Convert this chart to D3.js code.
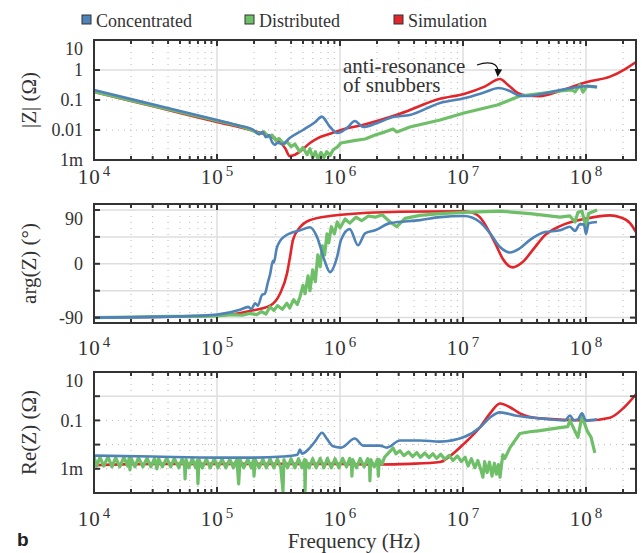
<!DOCTYPE html>
<html>
<head>
<meta charset="utf-8">
<script src="https://cdn.jsdelivr.net/npm/d3@7"></script>
<style>
  body { margin: 0; background: #fff; }
  svg text { font-family: "Liberation Serif", "Times New Roman", serif; fill: #333; }
</style>
</head>
<body>
<svg id="chart" width="642" height="553"></svg>
<script>
// Impedance of the snubber network: |Z|, arg(Z), Re(Z) vs frequency

const seriesNames = ["Concentrated", "Distributed", "Simulation"];
const seriesColors = ["#4f83b8", "#6fbf69", "#e0262a"];

const xTickExps = [4, 5, 6, 7, 8];

const magTicks = [10, 1, 0.1, 0.01, 0.001];
const magTickLabels = ["10", "1", "0.1", "0.01", "1m"];
const argTicks = [90, 45, 0, -45, -90];
const argTickLabels = ["90", "", "0", "", "-90"];
const reTicks = [10, 1, 0.1, 0.01, 0.001];
const reTickLabels = ["10", "", "0.1", "", "1m"];

// ---- |Z| (Ohm) ----
const magSim = [[1e4,0.185],[2e4,0.093],[5e4,0.037],[1e5,0.0185],[2e5,0.0092],[2.7e5,0.0062],[3.25e5,0.004],
  [3.6e5,0.0024],[3.9e5,0.00135],[4.3e5,0.0015],[4.73e5,0.0019],[5.7e5,0.0037],[6.5e5,0.0052],[8.3e5,0.0075],
  [1.02e6,0.01],[1.5e6,0.0145],[3.07e6,0.035],[6.5e6,0.11],[1.02e7,0.16],[1.5e7,0.28],[2e7,0.5],[2.3e7,0.33],
  [2.8e7,0.17],[3.3e7,0.14],[4.2e7,0.135],[6.15e7,0.2],[1.02e8,0.4],[1.57e8,0.6],[2.1e8,1.1],[2.55e8,1.85]];
const magConc = [[1e4,0.215],[2e4,0.107],[5e4,0.043],[1e5,0.0215],[1.5e5,0.0142],[2e5,0.0098],[2.2e5,0.0072],
  [2.35e5,0.0085],[2.5e5,0.0058],[2.65e5,0.0066],[2.8e5,0.004],[2.96e5,0.0032],[3.1e5,0.0038],[3.4e5,0.0034],
  [3.9e5,0.0054],[5e5,0.01],[6.3e5,0.0185],[7.1e5,0.028],[8.3e5,0.0126],[9.5e5,0.0079],[1.15e6,0.012],
  [1.32e6,0.02],[1.54e6,0.0126],[2e6,0.017],[2.7e6,0.027],[3.7e6,0.0316],[6.5e6,0.08],[1.02e7,0.115],
  [1.5e7,0.18],[1.95e7,0.25],[2.4e7,0.2],[2.9e7,0.14],[3.3e7,0.136],[6.15e7,0.215],[8.15e7,0.26],
  [1.02e8,0.29],[1.23e8,0.27]];
const magDist = [[1e4,0.19],[2e4,0.097],[5e4,0.04],[1e5,0.0205],[1.5e5,0.0138],[1.85e5,0.0105],[2.2e5,0.0075],
  [2.4e5,0.0088],[2.6e5,0.006],[2.8e5,0.0068],[3e5,0.0045],[3.2e5,0.0052],[3.5e5,0.0034],[3.7e5,0.0041],
  [4e5,0.0028],[4.3e5,0.0034],[4.7e5,0.0019],[5e5,0.0026],[5.4e5,0.0015],[5.7e5,0.0024],[6e5,0.0012],
  [6.3e5,0.0019],[6.6e5,0.0011],[7e5,0.0018],[7.4e5,0.0012],[7.8e5,0.0019],[8.3e5,0.0014],[8.8e5,0.0022],
  [9.5e5,0.0027],[1.02e6,0.0037],[1.3e6,0.0044],[1.6e6,0.005],[1.93e6,0.0068],[2.3e6,0.0085],[2.7e6,0.0108],
  [2.9e6,0.0086],[3.7e6,0.0126],[6.5e6,0.0215],[1.02e7,0.037],[1.9e7,0.068],[2.9e7,0.136],[6.15e7,0.2],
  [7.7e7,0.215],[8.15e7,0.185],[8.9e7,0.32],[9.45e7,0.185],[1.02e8,0.29],[1.23e8,0.27]];

// ---- arg(Z) (deg) ----
const argSim = [[1e4,-90],[1e5,-87],[1.85e5,-79],[2.7e5,-70],[3.25e5,-50],[3.71e5,-16],[3.92e5,11],[4.15e5,40],
  [4.73e5,61],[5.7e5,73],[8.3e5,80],[1.02e6,82],[3.07e6,87],[1.02e7,88],[1.25e7,84],[1.37e7,78],[1.66e7,51],
  [1.89e7,28],[2.11e7,8],[2.55e7,-6],[3.02e7,2],[3.85e7,28],[4.64e7,48],[6.15e7,63],[1.02e8,76],[1.57e8,81],
  [1.89e8,78],[2.28e8,68],[2.55e8,53]];
const argConc = [[1e4,-90],[5e4,-88],[1e5,-85],[1.54e5,-77],[1.8e5,-72],[1.9e5,-76],[2.04e5,-66],[2.15e5,-70],
  [2.32e5,-52],[2.45e5,-50],[2.6e5,-30],[2.7e5,-18],[2.85e5,5],[2.9e5,2],[3.05e5,25],[3.25e5,38],[3.5e5,45],
  [3.92e5,51],[4.73e5,56],[5.7e5,61],[6.5e5,45],[7.5e5,5],[8.3e5,-14],[9.46e5,11],[1.02e6,40],[1.2e6,58],
  [1.4e6,31],[1.6e6,51],[1.93e6,56],[2.55e6,68],[4.47e6,73],[6.5e6,78],[1.02e7,80],[1.37e7,70],[1.66e7,51],
  [2e7,28],[2.41e7,19],[2.9e7,26],[3.51e7,40],[4.64e7,53],[6.15e7,56],[7.4e7,62],[8.15e7,55],[8.9e7,66],
  [9.6e7,66],[1e8,50],[1.05e8,68],[1.23e8,70]];
const argDist = [[1e4,-90],[2e4,-89],[4e4,-88],[7e4,-88],[1e5,-87],[1.3e5,-85],[1.6e5,-86],[1.85e5,-83],
  [2.1e5,-85],[2.3e5,-80],[2.5e5,-84],[2.7e5,-72],[2.9e5,-78],[3.1e5,-70],[3.4e5,-76],[3.7e5,-66],[3.9e5,-74],
  [4.2e5,-60],[4.5e5,-68],[4.73e5,-55],[5e5,-36],[5.2e5,-50],[5.5e5,-20],[5.7e5,-45],[6e5,-10],[6.3e5,-30],
  [6.6e5,15],[6.9e5,-5],[7.2e5,30],[7.5e5,15],[7.84e5,50],[8.1e5,35],[8.5e5,62],[9e5,50],[9.5e5,70],
  [1e6,60],[1.1e6,75],[1.2e6,68],[1.35e6,78],[1.5e6,72],[1.7e6,80],[1.93e6,78],[2.2e6,82],[2.55e6,70],
  [2.9e6,62],[3.38e6,76],[4.47e6,81],[6.5e6,84],[1.02e7,86],[2e7,88],[3.51e7,84],[6.15e7,78],[7.4e7,80],
  [8.15e7,70],[8.6e7,86],[9.27e7,88],[1e8,62],[1.05e8,84],[1.23e8,90]];

// ---- Re(Z) (Ohm) ----
const reSim = [[1e4,0.0014],[3e4,0.0016],[1e5,0.0016],[1e6,0.0016],[2e6,0.0015],[3.7e6,0.0016],[6.5e6,0.0019],
  [7.8e6,0.0033],[1.02e7,0.011],[1.37e7,0.051],[1.66e7,0.196],[2e7,0.5],[2.41e7,0.35],[2.9e7,0.196],
  [4.23e7,0.121],[1.02e8,0.1],[1.57e8,0.13],[2.05e8,0.35],[2.55e8,1.2]];
const reConc = [[1e4,0.0035],[3e4,0.0032],[1e5,0.0029],[2e5,0.0029],[3.44e5,0.0032],[4.5e5,0.0038],
  [4.73e5,0.0062],[4.9e5,0.0042],[5.7e5,0.0075],[6.3e5,0.014],[7.14e5,0.031],[7.84e5,0.017],[8.8e5,0.0085],
  [1.02e6,0.0075],[1.32e6,0.0178],[1.54e6,0.0091],[2.11e6,0.0091],[2.41e6,0.0075],[3.07e6,0.0147],
  [4.47e6,0.0147],[6.5e6,0.0133],[1.02e7,0.0205],[1.37e7,0.051],[1.66e7,0.133],[2e7,0.215],[2.65e7,0.16],
  [4.23e7,0.121],[6.75e7,0.1],[7.4e7,0.16],[7.98e7,0.1],[8.6e7,0.11],[9.27e7,0.196],[1e8,0.1],[1.23e8,0.11]];
const reDist = [[1e4,0.0032],[1.05e4,0.0013],[1.12e4,0.003],[1.2e4,0.0013],[1.3e4,0.0031],[1.4e4,0.0012],
  [1.5e4,0.0029],[1.62e4,0.0012],[1.75e4,0.003],[1.88e4,0.0013],[1.93e4,0.0027],[1.96e4,0.0009],[2e4,0.0028],
  [2.15e4,0.0012],[2.3e4,0.0029],[2.5e4,0.0012],[2.7e4,0.0028],[2.9e4,0.0012],[3.1e4,0.0027],[3.25e4,0.001],
  [3.35e4,0.0027],[3.6e4,0.0012],[3.9e4,0.0028],[4.2e4,0.0012],[4.5e4,0.0027],[4.9e4,0.0011],[5.2e4,0.0026],
  [5.45e4,0.0013],[5.5e4,0.00038],[5.6e4,0.0024],[5.9e4,0.0011],[6.3e4,0.0027],[6.7e4,0.0011],[6.9e4,0.0022],
  [7e4,0.00024],[7.15e4,0.0024],[7.6e4,0.0011],[8.2e4,0.0026],[8.8e4,0.0011],[9.5e4,0.0026],[1.02e5,0.0011],
  [1.1e5,0.0026],[1.18e5,0.0011],[1.27e5,0.0025],[1.36e5,0.0011],[1.45e5,0.0025],[1.5e5,0.00024],
  [1.54e5,0.0024],[1.65e5,0.0011],[1.78e5,0.0025],[1.9e5,0.0011],[1.97e5,0.0022],[2e5,0.0005],[2.05e5,0.0024],
  [2.2e5,0.0011],[2.36e5,0.0025],[2.52e5,0.0011],[2.7e5,0.0026],[2.9e5,0.0011],[3.1e5,0.0026],[3.3e5,0.0011],
  [3.44e5,0.00012],[3.5e5,0.0024],[3.75e5,0.0011],[4e5,0.0026],[4.3e5,0.0011],[4.6e5,0.0026],[4.9e5,0.0011],
  [5.15e5,0.0024],[5.2e5,0.00012],[5.27e5,0.0023],[5.6e5,0.0011],[6e5,0.0026],[6.4e5,0.0011],[6.9e5,0.0027],
  [7.4e5,0.0011],[7.9e5,0.0027],[8.5e5,0.0011],[9.1e5,0.0026],[9.8e5,0.0011],[1.05e6,0.0027],[1.13e6,0.0012],
  [1.2e6,0.0027],[1.24e6,0.0014],[1.25e6,0.0005],[1.27e6,0.0024],[1.36e6,0.0011],[1.46e6,0.0027],
  [1.57e6,0.0012],[1.68e6,0.0026],[1.74e6,0.0014],[1.75e6,0.00032],[1.78e6,0.0024],[1.9e6,0.0012],
  [2.02e6,0.0025],[2.05e6,0.0005],[2.08e6,0.0024],[2.2e6,0.0016],[2.3e6,0.003],[2.45e6,0.0042],[2.7e6,0.0072],
  [2.85e6,0.0042],[3.07e6,0.0056],[3.3e6,0.0035],[3.6e6,0.005],[3.9e6,0.0032],[4.2e6,0.0047],[4.5e6,0.003],
  [4.9e6,0.0045],[5.3e6,0.0029],[5.7e6,0.0042],[6.1e6,0.0027],[6.6e6,0.004],[7.1e6,0.0025],[7.7e6,0.0036],
  [8.3e6,0.0022],[9e6,0.0034],[9.7e6,0.002],[1.04e7,0.003],[1.1e7,0.0013],[1.17e7,0.0026],[1.25e7,0.0011],
  [1.32e7,0.0022],[1.4e7,0.0009],[1.45e7,0.00045],[1.5e7,0.002],[1.57e7,0.0007],[1.64e7,0.0019],
  [1.72e7,0.0005],[1.8e7,0.0017],[1.87e7,0.0006],[1.94e7,0.0015],[2e7,0.00045],[2.05e7,0.0013],
  [2.11e7,0.0038],[2.19e7,0.0027],[2.41e7,0.0075],[2.65e7,0.015],[2.9e7,0.0287],[3.5e7,0.034],[4.23e7,0.038],
  [6.15e7,0.05],[7.1e7,0.055],[7.4e7,0.1],[8.6e7,0.02],[9.27e7,0.147],[1.02e8,0.038],[1.1e8,0.02],[1.18e8,0.0046]];

const svg = d3.select("#chart");
const left = 94, right = 636;

const x = d3.scaleLog().domain([1e4, 2.55e8]).range([left, right]);

const panels = [
  { top: 40, bottom: 160, y: d3.scaleLog().domain([1e-3, 10]), ticks: magTicks, labels: magTickLabels,
    solid: [1], title: "|Z| (\u03A9)", xLabelY: 184, data: [magConc, magDist, magSim] },
  { top: 204, bottom: 323, y: d3.scaleLinear().domain([-99, 100]), ticks: argTicks, labels: argTickLabels,
    solid: [90, 45, 0, -45, -90], title: "arg(Z) (\u00B0)", xLabelY: 355, data: [argConc, argDist, argSim] },
  { top: 372, bottom: 493, y: d3.scaleLog().domain([1e-4, 10]), ticks: reTicks, labels: reTickLabels,
    solid: [1], title: "Re(Z) (\u03A9)", xLabelY: 526, data: [reConc, reDist, reSim] }
];

const xMinor = x.ticks();  // 1..9 x 10^k
const isDecade = v => Math.abs(Math.log10(v) - Math.round(Math.log10(v))) < 1e-9;

panels.forEach((p, i) => {
  p.y.range([p.bottom, p.top]);
  const g = svg.append("g");

  // vertical grid
  xMinor.filter(v => x(v) > left + 1 && x(v) < right - 1).forEach(v => {
    const decade = isDecade(v);
    g.append("line")
      .attr("x1", x(v)).attr("x2", x(v))
      .attr("y1", p.top).attr("y2", p.bottom)
      .attr("stroke", decade ? "#dedede" : "#b8b8b8")
      .attr("stroke-width", decade ? 1.5 : 1)
      .attr("stroke-dasharray", decade ? null : "1,5");
  });

  // horizontal grid
  p.ticks.forEach(t => {
    const yy = p.y(t);
    if (yy <= p.top + 1 || yy >= p.bottom - 1) return;
    const solid = p.solid.includes(t);
    g.append("line")
      .attr("x1", left).attr("x2", right)
      .attr("y1", yy).attr("y2", yy)
      .attr("stroke", solid ? "#dedede" : "#b8b8b8")
      .attr("stroke-width", solid ? 1.5 : 1)
      .attr("stroke-dasharray", solid ? null : "1,5");
  });

  // data
  const clipId = "clip" + i;
  svg.append("clipPath").attr("id", clipId)
    .append("rect").attr("x", left).attr("y", p.top)
    .attr("width", right - left).attr("height", p.bottom - p.top);

  const order = [2, 1, 0];  // simulation, distributed, concentrated on top
  order.forEach(k => {
    const line = d3.line()
      .x(d => x(d[0]))
      .y(d => p.y(d[1]))
      .curve(k === 1 ? d3.curveLinear : d3.curveMonotoneX);
    g.append("path")
      .datum(p.data[k])
      .attr("clip-path", `url(#${clipId})`)
      .attr("d", line)
      .attr("fill", "none")
      .attr("stroke", seriesColors[k])
      .attr("stroke-width", k === 1 ? 3.2 : 2.6)
      .attr("stroke-linejoin", "round");
  });

  // frame
  g.append("rect")
    .attr("x", left).attr("y", p.top)
    .attr("width", right - left).attr("height", p.bottom - p.top)
    .attr("fill", "none").attr("stroke", "#333").attr("stroke-width", 2);

  // x ticks (inward, top and bottom)
  xMinor.forEach(v => {
    const len = isDecade(v) ? 6 : 4;
    g.append("line").attr("x1", x(v)).attr("x2", x(v))
      .attr("y1", p.top).attr("y2", p.top + len)
      .attr("stroke", "#333").attr("stroke-width", 2);
    g.append("line").attr("x1", x(v)).attr("x2", x(v))
      .attr("y1", p.bottom).attr("y2", p.bottom - len)
      .attr("stroke", "#333").attr("stroke-width", 2);
  });

  // y ticks (inward, left and right)
  p.ticks.forEach((t, j) => {
    const yy = p.y(t);
    g.append("line").attr("x1", left).attr("x2", left + 6)
      .attr("y1", yy).attr("y2", yy).attr("stroke", "#333").attr("stroke-width", 2);
    g.append("line").attr("x1", right).attr("x2", right - 6)
      .attr("y1", yy).attr("y2", yy).attr("stroke", "#333").attr("stroke-width", 2);
    if (p.labels[j]) {
      const shift = yy - p.top < 8 ? 9 : 0;
      g.append("text")
        .attr("x", 83).attr("y", yy + shift)
        .attr("dy", "0.35em")
        .attr("text-anchor", "end")
        .attr("font-size", 18)
        .text(p.labels[j]);
    }
  });

  // x tick labels 10^k
  xTickExps.forEach(e => {
    const t = g.append("text")
      .attr("x", x(Math.pow(10, e)))
      .attr("y", p.xLabelY)
      .attr("text-anchor", "middle")
      .attr("font-size", 21);
    t.append("tspan").attr("letter-spacing", 1).text("10");
    t.append("tspan").attr("dx", 2).attr("dy", -8).attr("font-size", 15).text(e);
  });

  // y title
  g.append("text")
    .attr("transform", `translate(36,${(p.top + p.bottom) / 2}) rotate(-90)`)
    .attr("text-anchor", "middle")
    .attr("font-size", 21)
    .text(p.title);
});

// x axis title
svg.append("text")
  .attr("x", 354).attr("y", 548)
  .attr("text-anchor", "middle")
  .attr("font-size", 21)
  .text("Frequency (Hz)");

// panel letter
svg.append("text")
  .attr("x", 17).attr("y", 546)
  .style("font-family", "'Liberation Sans', Arial, sans-serif")
  .style("font-weight", "bold")
  .style("fill", "#222")
  .attr("font-size", 19)
  .text("b");

// legend
const legendX = [82, 245, 394];
seriesNames.forEach((name, i) => {
  svg.append("rect")
    .attr("x", legendX[i]).attr("y", 15)
    .attr("width", 9).attr("height", 9)
    .attr("fill", seriesColors[i])
    .attr("stroke", "#333").attr("stroke-width", 1);
  svg.append("text")
    .attr("x", legendX[i] + 14).attr("y", 27)
    .attr("font-size", 18)
    .text(name);
});

// annotation
svg.append("defs").append("marker")
  .attr("id", "arrow")
  .attr("viewBox", "0 0 10 10")
  .attr("refX", 5).attr("refY", 5)
  .attr("markerWidth", 6).attr("markerHeight", 6)
  .attr("orient", "auto")
  .append("path").attr("d", "M0,0 L10,5 L0,10 z").attr("fill", "#111");

svg.append("path")
  .attr("d", "M477,65 C488,61 499,62 498,73")
  .attr("fill", "none")
  .attr("stroke", "#111")
  .attr("stroke-width", 1.3)
  .attr("marker-end", "url(#arrow)");

svg.append("text").attr("x", 343).attr("y", 73).attr("font-size", 21).text("anti-resonance");
svg.append("text").attr("x", 343).attr("y", 92).attr("font-size", 21).text("of snubbers");
</script>
</body>
</html>
